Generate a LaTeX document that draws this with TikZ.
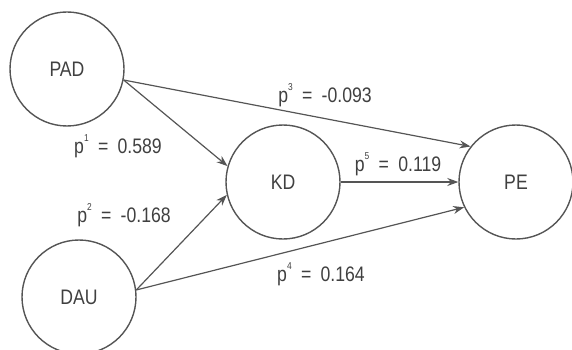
\documentclass[tikz,border=0pt]{standalone}
\usepackage{fontspec}
\setmainfont[FakeStretch=0.84]{Liberation Sans}
\usetikzlibrary{arrows.meta}
\definecolor{linegray}{HTML}{555555}
\definecolor{textgray}{HTML}{404040}
\newcommand{\pidx}[1]{\raisebox{0.55em}{\fontsize{10}{10}\selectfont #1}}

\begin{document}
\begin{tikzpicture}[x=1pt, y=-1pt,
    var/.style={circle, draw=linegray, line width=1.4pt, minimum size=114pt, inner sep=0pt, text=textgray, font=\fontsize{21}{21}\selectfont},
    coef/.style={text=textgray, font=\fontsize{21}{21}\selectfont, inner sep=0pt},
    link/.style={draw=linegray, line width=1.2pt, -{Stealth[length=11pt, width=8pt]}}]
    \useasboundingbox (0,0) rectangle (572,350);
    \node[var] (PAD) at (67,69) {PAD}; \node[var] (DAU) at (79,297) {DAU};
    \node[var] (KD) at (283,182) {KD}; \node[var] (PE) at (516,182) {PE};

    \draw[link] (PAD.-11) -- (KD.164); \draw[link] (PAD.-11) -- (PE.142);
    \draw[link] (DAU.7) -- (KD.193);   \draw[link] (DAU.7) -- (PE.206);
    \draw[link] (KD.east) -- (PE.west);

    \node[coef] (c1) at (118,146) {p\pidx{1}\;\,=\;\,0.589};
    \node[coef] (c2) at (124,215) {p\pidx{2}\;\,=\;\,-0.168};
    \node[coef] (c3) at (325,95) {p\pidx{3}\;\,=\;\,-0.093};
    \node[coef] (c4) at (321,274) {p\pidx{4}\;\,=\;\,0.164};
    \node[coef] (c5) at (398,164) {p\pidx{5}\;\,=\;\,0.119};
\end{tikzpicture}
\end{document}
